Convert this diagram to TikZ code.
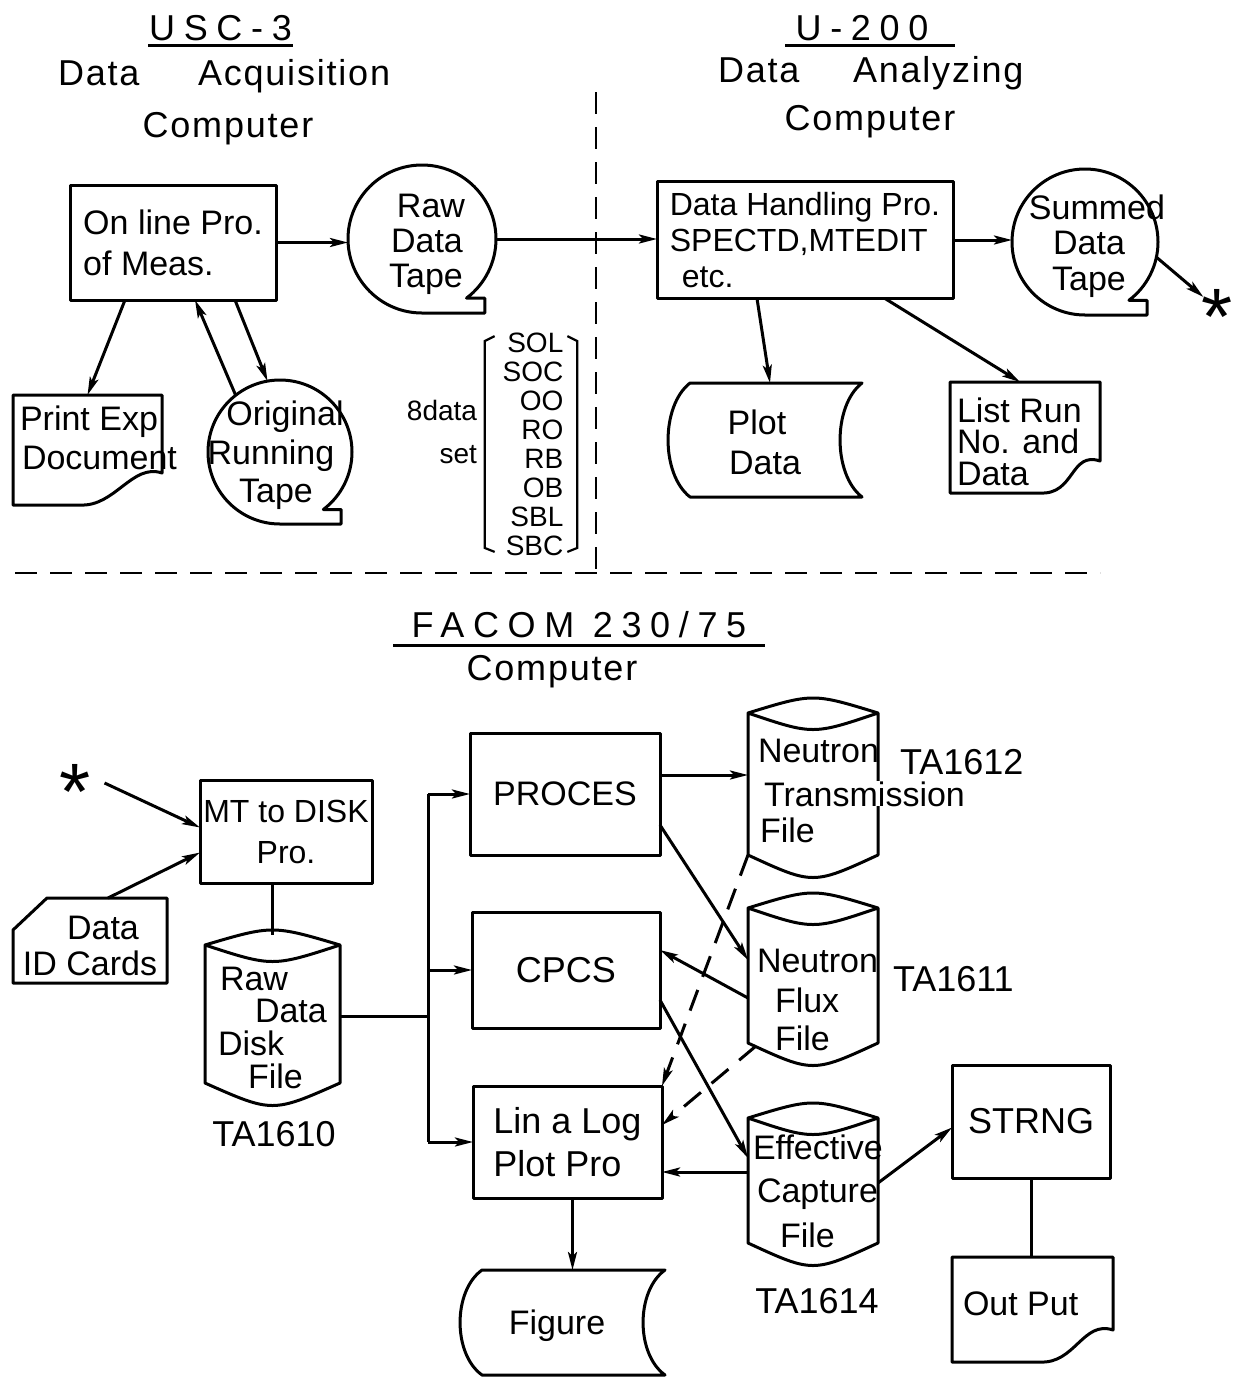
\documentclass[tikz,border=0pt]{standalone}
\usepackage{fontspec}
\setmainfont{Liberation Sans}
\newfontfamily\ttlw[LetterSpace=24]{Liberation Sans}
\newfontfamily\ttln[LetterSpace=5]{Liberation Sans}
\usetikzlibrary{arrows.meta,calc}

\newcommand{\tapeshape}[3]{%
  \draw[ln] (#1,#2+#3) arc[start angle=90, end angle=413, radius=#3]
    -- ({#1+0.85*#3},{#2+0.8*#3}) -- ({#1+0.85*#3},{#2+#3}) -- cycle;}
\newcommand{\docshape}[5]{%
  \draw[ln] (#1,#2) -- (#3,#2) -- (#3,#4-32)
    .. controls (#3-30,#4-42) and (#5+35,#4+2) .. (#5,#4) -- (#1,#4) -- cycle;}
\newcommand{\punchshape}[5]{%
  \draw[ln] (#1+#5,#2) -- (#3,#2)
    .. controls ({#3-1.33*#5},{#2+0.2*(#4-#2)}) and ({#3-1.33*#5},{#4-0.2*(#4-#2)}) .. (#3,#4)
    -- (#1+#5,#4)
    .. controls ({#1-0.33*#5},{#4-0.2*(#4-#2)}) and ({#1-0.33*#5},{#2+0.2*(#4-#2)}) .. cycle;}
\newcommand{\cylshape}[4]{%
  \draw[ln] (#1,#2+10) .. controls ({(#1+#3)/2},#2-10) .. (#3,#2+10)
    .. controls ({(#1+#3)/2},#2+32) .. (#1,#2+10)
    -- (#1,#4-15) .. controls ({(#1+#3)/2},#4+15) .. (#3,#4-15) -- (#3,#2+10);}
\newcommand{\tx}[5][]{\node[txt,#1] (#2) at (#3,#4) {#5};}

\tikzset{
  every node/.style={inner sep=0pt, outer sep=0pt},
  ln/.style={line width=3pt, line join=round},
  box/.style={ln, draw, rectangle, font=\fontsize{34}{41}\selectfont},
  shp/.style={rectangle, draw=none},
  circ/.style={circle, draw=none},
  txt/.style={font=\fontsize{34}{40}\selectfont},
  ttl/.style={font=\ttln\fontsize{36}{40}\selectfont},
  ulttl/.style={font=\ttlw\fontsize{36}{40}\selectfont},
  tlbl/.style={font=\fontsize{36}{40}\selectfont},
  starnode/.style={font=\fontsize{80}{80}\selectfont},
  arr/.style={ln, -{Stealth[length=18pt,width=9pt,inset=4pt]}},
  dsh/.style={arr, dash pattern=on 22pt off 14pt},
  divider/.style={line width=2.6pt, dash pattern=on 22pt off 13pt},
}

\begin{document}
\begin{tikzpicture}[x=1pt,y=-1pt]
\fill[white] (0,0) rectangle (1235,1377);
\useasboundingbox (0,0) rectangle (1235,1377);

% ---------------- titles ----------------
\node[ulttl, minimum width=145pt, anchor=base] (usc) at (220.5,40) {USC-3};
\draw[ln] ([yshift=-5pt]usc.base west) -- ([yshift=-5pt]usc.base east);
\node[ttl, anchor=base west] (acq1) at (58,85) {Data};
\node[ttl, anchor=base west] (acq2) at (198,85) {Acquisition};
\node[ttl, anchor=base] (comp1) at (228,137) {Computer};

\node[ulttl, minimum width=170pt, anchor=base] (u200) at (862,40) {U-200};
\draw[ln] ([yshift=-5pt,xshift=8pt]u200.base west) -- ([yshift=-5pt,xshift=8pt]u200.base east);
\node[ttl, anchor=base west] (ana1) at (718,82) {Data};
\node[ttl, anchor=base west] (ana2) at (853,82) {Analyzing};
\node[ttl, anchor=base] (comp2) at (870,130) {Computer};

\node[ulttl, minimum width=372pt, anchor=base] (facom) at (579,637) {FACOM 230/75};
\draw[ln] ([yshift=-8pt]facom.base west) -- ([yshift=-8pt]facom.base east);
\node[ttl, anchor=base] (comp3) at (552,680) {Computer};

% ---------------- dividers ----------------
\draw[divider] (15,573) -- (1100,573);
\draw[divider] (596,92) -- (596,575);

% ---------------- top left ----------------
\node[box, align=left, minimum width=206pt, minimum height=115pt] (online) at (173,242.5) {On line Pro.\\of Meas.};

\node[circ, minimum size=148pt] (rawtape) at (422,239) {};
\tapeshape{422}{239}{74}
\tx[anchor=base]{rawtape1}{431}{217}{Raw}
\tx[anchor=base]{rawtape2}{427}{252}{Data}
\tx[anchor=base]{rawtape3}{426}{287}{Tape}

\node[shp, minimum width=149pt, minimum height=110pt] (printdoc) at (87.5,450) {};
\docshape{13}{395}{162}{505}{80}
\tx[anchor=base west]{printdoc1}{20}{430}{Print Exp}
\tx[anchor=base west]{printdoc2}{22}{469}{Document}

\node[circ, minimum size=144pt] (origtape) at (280,452) {};
\tapeshape{280}{452}{72}
\tx[anchor=base]{origtape1}{285}{425}{Original}
\tx[anchor=base]{origtape2}{271}{464}{Running}
\tx[anchor=base]{origtape3}{276}{502}{Tape}

\node[font=\fontsize{28}{29}\selectfont, align=right] (dlist) at (533,444) {SOL\\SOC\\OO\\RO\\RB\\OB\\SBL\\SBC};
\draw[line width=2.2pt] ([shift={(-8pt,-3.5pt)}]dlist.north west) -- ([shift={(-18pt,-8.5pt)}]dlist.north west)
  -- ([shift={(-18pt,7.5pt)}]dlist.south west) -- ([shift={(-8pt,3.5pt)}]dlist.south west);
\draw[line width=2.2pt] ([shift={(4pt,-3.5pt)}]dlist.north east) -- ([shift={(14pt,-8.5pt)}]dlist.north east)
  -- ([shift={(14pt,7.5pt)}]dlist.south east) -- ([shift={(4pt,3.5pt)}]dlist.south east);
\node[font=\fontsize{28}{43}\selectfont, align=right, anchor=east] (eightset) at (477,432) {8data\\set};

% ---------------- top right ----------------
\node[box, align=left, font=\fontsize{32}{36}\selectfont, minimum width=296pt, minimum height=117pt] (dhp) at (805,240) {Data Handling Pro.\\SPECTD,MTEDIT\\\hspace{12pt}etc.};

\node[circ, minimum size=146pt] (summed) at (1085,242) {};
\tapeshape{1085}{242}{73}
\tx[anchor=base]{summed1}{1097}{219}{Summed}
\tx[anchor=base]{summed2}{1089}{254}{Data}
\tx[anchor=base]{summed3}{1089}{290}{Tape}
\node[starnode] (star2) at (1217,317) {*};

\node[shp, minimum width=194pt, minimum height=114pt] (plotdata) at (765,440) {};
\punchshape{668}{383}{862}{497}{22}
\tx[anchor=base]{plotdata1}{757}{434}{Plot}
\tx[anchor=base]{plotdata2}{765}{474}{Data}

\node[shp, minimum width=150pt, minimum height=111pt] (listrun) at (1025,437.5) {};
\docshape{950}{382}{1100}{493}{1040}
\tx[anchor=base west]{listrun1}{957}{422}{List Run}
\tx[anchor=base west]{listrun2}{957}{453}{No. and}
\tx[anchor=base west]{listrun3}{957}{485}{Data}

% top connectors
\draw[arr] (online.east) -- (online.east -| rawtape.west);
\draw[arr] (rawtape.east) -- (rawtape.east -| dhp.west);
\draw[arr] (dhp.east) -- (dhp.east -| summed.west);
\draw[arr] (summed.-12) -- ([xshift=2pt,yshift=20pt]star2.west);
\draw[arr] ([xshift=-48pt]online.south) -- (printdoc.north);
\draw[arr] (origtape.128) -- ([xshift=22pt]online.south);
\draw[arr] ([xshift=62pt]online.south) -- (origtape.100);
\draw[arr] ([xshift=-48pt]dhp.south) -- ([xshift=5pt]plotdata.north);
\draw[arr] ([xshift=80pt]dhp.south) -- ([xshift=-5pt]listrun.north);

% ---------------- bottom ----------------
\node[starnode] (star1) at (75,792) {*};

\node[box, align=center, font=\fontsize{32}{41}\selectfont, minimum width=172pt, minimum height=103pt] (mtdisk) at (286,831.5) {MT to DISK\\Pro.};

\node[shp, minimum width=154pt, minimum height=85pt] (idcards) at (90,940.5) {};
\draw[ln] (47,898) -- (167,898) -- (167,983) -- (13,983) -- (13,930) -- cycle;
\tx[anchor=base]{idcards1}{103}{939}{Data}
\tx[anchor=base]{idcards2}{90}{975}{ID Cards}

\node[shp, minimum width=135pt, minimum height=163pt] (rawdisk) at (272.5,1016.5) {};
\cylshape{205}{935}{340}{1098}
\tx[anchor=base west]{rawdisk1}{220}{990}{Raw}
\tx[anchor=base west]{rawdisk2}{255}{1022}{Data}
\tx[anchor=base west]{rawdisk3}{218}{1055}{Disk}
\tx[anchor=base west]{rawdisk4}{248}{1088}{File}
\node[tlbl, anchor=base] (ta1610) at (274,1146) {TA1610};

\node[box, minimum width=190pt, minimum height=122pt] (proces) at (565,794) {PROCES};
\node[box, font=\fontsize{36}{41}\selectfont, minimum width=188pt, minimum height=116pt] (cpcs) at (566,970) {CPCS};
\node[box, align=left, font=\fontsize{36}{43}\selectfont, minimum width=189pt, minimum height=112pt] (linlog) at (567.5,1142) {Lin a Log\\Plot Pro};

\node[shp, minimum width=205pt, minimum height=105pt] (figure) at (562.5,1322.5) {};
\punchshape{460}{1270}{665}{1375}{22}
\tx[anchor=base]{figure1}{557}{1334}{Figure}

\node[shp, minimum width=130pt, minimum height=167pt] (ntrans) at (813,786.5) {};
\cylshape{748}{703}{878}{870}
\tx[anchor=base west]{ntrans1}{758}{762}{Neutron}
\node[txt, anchor=base west, fill=white, inner ysep=0pt, inner xsep=1pt] (ntrans2) at (763,806) {Transmission};
\tx[anchor=base west]{ntrans3}{760}{842}{File}
\node[tlbl, anchor=base west] (ta1612) at (900,774) {TA1612};

\node[shp, minimum width=130pt, minimum height=160pt] (nflux) at (813,978) {};
\cylshape{748}{898}{878}{1058}
\tx[anchor=base west]{nflux1}{757}{972}{Neutron}
\tx[anchor=base west]{nflux2}{775}{1012}{Flux}
\tx[anchor=base west]{nflux3}{775}{1050}{File}
\node[tlbl, anchor=base west] (ta1611) at (893,991) {TA1611};

\node[shp, minimum width=130pt, minimum height=150pt] (effcap) at (813,1183) {};
\cylshape{748}{1108}{878}{1258}
\tx[anchor=base west]{effcap1}{753}{1159}{Effective}
\tx[anchor=base west]{effcap2}{757}{1202}{Capture}
\tx[anchor=base west]{effcap3}{780}{1247}{File}
\node[tlbl, anchor=base] (ta1614) at (817,1313) {TA1614};

\node[box, font=\fontsize{36}{41}\selectfont, minimum width=158pt, minimum height=113pt] (strng) at (1031,1121.5) {STRNG};

\node[shp, minimum width=161pt, minimum height=105pt] (output) at (1032.5,1309.5) {};
\docshape{952}{1257}{1113}{1362}{1040}
\tx[anchor=base west]{output1}{963}{1315}{Out Put}

% bottom connectors
\coordinate (bus) at (428,970);
\draw[arr] ([xshift=14pt,yshift=9pt]star1.east) -- ([yshift=4pt]mtdisk.west);
\draw[arr] ([xshift=18pt]idcards.north) -- ([yshift=-21pt]mtdisk.west);
\draw[ln] (mtdisk.south -| rawdisk.north) -- (rawdisk.north);
\draw[ln] (rawdisk.east) -- (rawdisk.east -| bus);
\draw[ln] (proces.west -| bus) -- (linlog.west -| bus);
\draw[arr] (proces.west -| bus) -- (proces.west);
\draw[arr] (cpcs.west -| bus) -- (cpcs.west);
\draw[arr] (linlog.west -| bus) -- (linlog.west);
\draw[arr] ([yshift=19pt]proces.east) -- ([yshift=19pt]proces.east -| ntrans.west);
\draw[arr] ([yshift=-31pt]proces.east) -- ([yshift=18pt]nflux.west);
\draw[arr] ([yshift=-20pt]nflux.west) -- ([yshift=20pt]cpcs.east);
\draw[arr] ([yshift=-30pt]cpcs.east) -- ([yshift=25pt]effcap.west);
\draw[dsh] ([yshift=15pt]ntrans.south west) -- (linlog.north east);
\draw[dsh] ([xshift=8pt,yshift=12pt]nflux.south west) -- ([yshift=17pt]linlog.east);
\draw[arr] ([yshift=11pt]effcap.west) -- ([yshift=11pt]effcap.west -| linlog.east);
\draw[arr] (effcap.east) -- ([yshift=-6pt]strng.west);
\draw[ln] (strng.south) -- (strng.south |- output.north);
\draw[arr] ([xshift=5pt]linlog.south) -- ([xshift=5pt]linlog.south |- figure.north);
\end{tikzpicture}
\end{document}
